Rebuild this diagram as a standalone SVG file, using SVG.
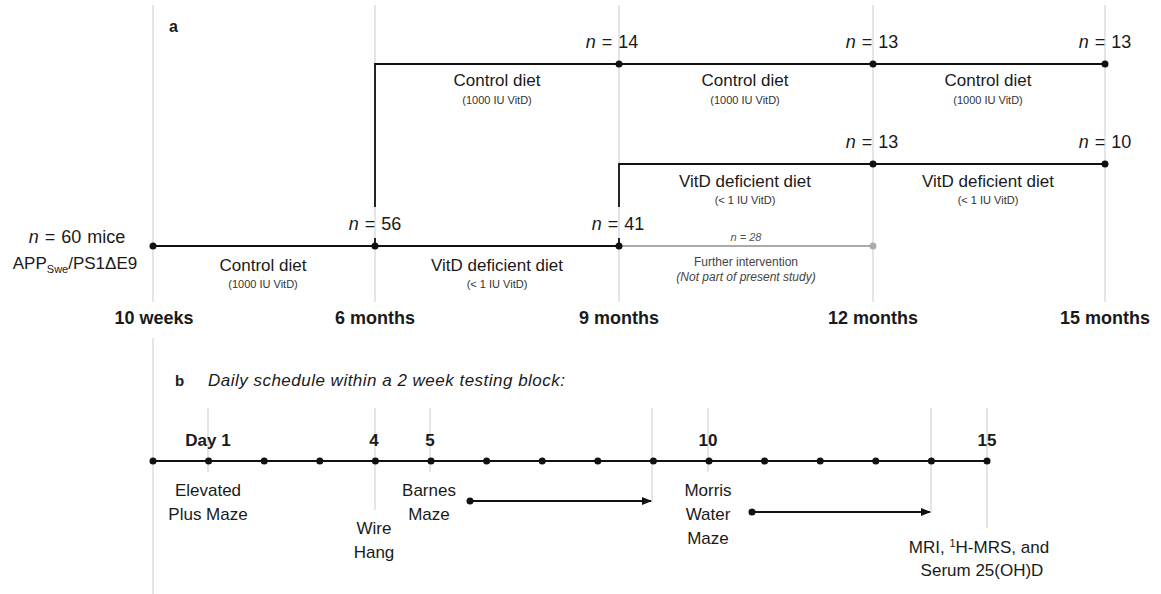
<svg xmlns="http://www.w3.org/2000/svg" width="1161" height="594" viewBox="0 0 1161 594">
<style>
text{font-family:"Liberation Sans",Arial,sans-serif;fill:#1a1a1a}
.m{font-size:17px}
.s{font-size:11px;fill:#333}
.b{font-size:18px;font-weight:bold}
.n{font-size:18px;word-spacing:1px}
.t{font-size:17px}
.g{stroke:#d4d4d4;stroke-width:1.2;fill:none}
.k{stroke:#111;stroke-width:1.8;fill:none}
.gr{stroke:#aaaaaa;stroke-width:1.8;fill:none}
.d{fill:#111}
.gd{fill:#aaaaaa}
</style>
<defs>
<marker id="ah" markerWidth="10" markerHeight="8" refX="9" refY="4" orient="auto" markerUnits="userSpaceOnUse">
<path d="M0,0 L10,4 L0,8 z" fill="#111"/>
</marker>
</defs>
<rect width="1161" height="594" fill="#fff"/>
<g id="gridlines">
<line class="g" x1="153" y1="5" x2="153" y2="302"/>
<line class="g" x1="153" y1="338" x2="153" y2="594"/>
<line class="g" x1="375" y1="5" x2="375" y2="302"/>
<line class="g" x1="619" y1="5" x2="619" y2="302"/>
<line class="g" x1="873" y1="5" x2="873" y2="302"/>
<line class="g" x1="1105" y1="5" x2="1105" y2="302"/>
<line class="g" x1="208" y1="408" x2="208" y2="472"/>
<line class="g" x1="375" y1="408" x2="375" y2="510"/>
<line class="g" x1="430" y1="408" x2="430" y2="472"/>
<line class="g" x1="652" y1="408" x2="652" y2="502"/>
<line class="g" x1="708" y1="408" x2="708" y2="472"/>
<line class="g" x1="931" y1="408" x2="931" y2="513"/>
<line class="g" x1="987" y1="408" x2="987" y2="528"/>
</g>
<g id="connectors">
<polyline class="k" points="375,207 375,64 1105,64"/>
<line class="k" x1="375" y1="238" x2="375" y2="246"/>
<polyline class="k" points="619,207 619,164 1105,164"/>
<line class="k" x1="619" y1="238" x2="619" y2="246"/>
<line class="k" x1="153" y1="246" x2="619" y2="246"/>
<line class="gr" x1="619" y1="246" x2="873" y2="246"/>
<line class="k" x1="153" y1="461" x2="987" y2="461"/>
<line class="k" x1="470" y1="501" x2="651" y2="501" stroke-width="1.4" marker-end="url(#ah)"/>
<line class="k" x1="752" y1="512" x2="930" y2="512" stroke-width="1.4" marker-end="url(#ah)"/>
<circle class="d" cx="470" cy="501" r="3.5"/>
<circle class="d" cx="752" cy="512" r="3.5"/>
</g>
<g id="panel-a-label"><text x="169" y="32" class="b" style="font-size:16px">a</text></g>
<g id="start">
<circle class="d" cx="153" cy="246" r="3.5"/>
<text class="n" x="77" y="243" text-anchor="middle"><tspan font-style="italic">n</tspan> = 60 mice</text>
<text class="n" x="75" y="269" text-anchor="middle" style="font-size:17px">APP<tspan font-size="11" dy="4">Swe</tspan><tspan dy="-4">/PS1ΔE9</tspan></text>
</g>
<g id="m6">
<circle class="d" cx="375" cy="246" r="3.5"/>
<text class="n" x="375" y="230" text-anchor="middle"><tspan font-style="italic">n</tspan> = 56</text>
</g>
<g id="m9">
<circle class="d" cx="619" cy="246" r="3.5"/>
<text class="n" x="618" y="230" text-anchor="middle"><tspan font-style="italic">n</tspan> = 41</text>
</g>
<g id="ctrl9">
<circle class="d" cx="619" cy="64" r="3.5"/>
<text class="n" x="612" y="48" text-anchor="middle"><tspan font-style="italic">n</tspan> = 14</text>
</g>
<g id="ctrl12">
<circle class="d" cx="873" cy="64" r="3.5"/>
<text class="n" x="872" y="48" text-anchor="middle"><tspan font-style="italic">n</tspan> = 13</text>
</g>
<g id="ctrl15">
<circle class="d" cx="1105" cy="64" r="3.5"/>
<text class="n" x="1105" y="48" text-anchor="middle"><tspan font-style="italic">n</tspan> = 13</text>
</g>
<g id="def12">
<circle class="d" cx="873" cy="164" r="3.5"/>
<text class="n" x="872" y="148" text-anchor="middle"><tspan font-style="italic">n</tspan> = 13</text>
</g>
<g id="def15">
<circle class="d" cx="1105" cy="164" r="3.5"/>
<text class="n" x="1105" y="148" text-anchor="middle"><tspan font-style="italic">n</tspan> = 10</text>
</g>
<g id="further">
<circle class="gd" cx="873" cy="246" r="3.5"/>
<text x="746" y="241" text-anchor="middle" font-size="11" font-style="italic" style="fill:#555"><tspan>n</tspan> = 28</text>
<text x="746" y="266" text-anchor="middle" font-size="12" style="fill:#444">Further intervention</text>
<text x="746" y="281" text-anchor="middle" font-size="12" font-style="italic" style="fill:#444">(Not part of present study)</text>
</g>
<g id="diet-labels">
<text class="m" x="497" y="86" text-anchor="middle">Control diet</text>
<text class="s" x="497" y="104" text-anchor="middle">(1000 IU VitD)</text>
<text class="m" x="745" y="86" text-anchor="middle">Control diet</text>
<text class="s" x="745" y="104" text-anchor="middle">(1000 IU VitD)</text>
<text class="m" x="988" y="86" text-anchor="middle">Control diet</text>
<text class="s" x="988" y="104" text-anchor="middle">(1000 IU VitD)</text>
<text class="m" x="745" y="187" text-anchor="middle">VitD deficient diet</text>
<text class="s" x="745" y="204" text-anchor="middle">(&lt; 1 IU VitD)</text>
<text class="m" x="988" y="187" text-anchor="middle">VitD deficient diet</text>
<text class="s" x="988" y="204" text-anchor="middle">(&lt; 1 IU VitD)</text>
<text class="m" x="263" y="271" text-anchor="middle">Control diet</text>
<text class="s" x="263" y="288" text-anchor="middle">(1000 IU VitD)</text>
<text class="m" x="497" y="271" text-anchor="middle">VitD deficient diet</text>
<text class="s" x="497" y="288" text-anchor="middle">(&lt; 1 IU VitD)</text>
</g>
<g id="axis-a">
<text class="b" x="154" y="324" text-anchor="middle">10 weeks</text>
<text class="b" x="375" y="324" text-anchor="middle">6 months</text>
<text class="b" x="619" y="324" text-anchor="middle">9 months</text>
<text class="b" x="873" y="324" text-anchor="middle">12 months</text>
<text class="b" x="1105" y="324" text-anchor="middle">15 months</text>
</g>
<g id="panel-b-label">
<text x="175" y="386" font-weight="bold" font-size="15">b</text>
<text x="208" y="386" font-size="17" font-style="italic" textLength="357" lengthAdjust="spacing">Daily schedule within a 2 week testing block:</text>
</g>
<g id="days">
<circle class="d" cx="153" cy="461" r="3.5"/>
<circle class="d" cx="208.6" cy="461" r="3.5"/>
<circle class="d" cx="264.2" cy="461" r="3.5"/>
<circle class="d" cx="319.8" cy="461" r="3.5"/>
<circle class="d" cx="375.4" cy="461" r="3.5"/>
<circle class="d" cx="431" cy="461" r="3.5"/>
<circle class="d" cx="486.6" cy="461" r="3.5"/>
<circle class="d" cx="542.2" cy="461" r="3.5"/>
<circle class="d" cx="597.8" cy="461" r="3.5"/>
<circle class="d" cx="653.4" cy="461" r="3.5"/>
<circle class="d" cx="709" cy="461" r="3.5"/>
<circle class="d" cx="764.6" cy="461" r="3.5"/>
<circle class="d" cx="820.2" cy="461" r="3.5"/>
<circle class="d" cx="875.8" cy="461" r="3.5"/>
<circle class="d" cx="931.4" cy="461" r="3.5"/>
<circle class="d" cx="987" cy="461" r="3.5"/>
<text class="b" x="208" y="446" text-anchor="middle" style="font-size:17px">Day 1</text>
<text class="b" x="374" y="446" text-anchor="middle" style="font-size:17px">4</text>
<text class="b" x="430" y="446" text-anchor="middle" style="font-size:17px">5</text>
<text class="b" x="708" y="446" text-anchor="middle" style="font-size:17px">10</text>
<text class="b" x="987" y="446" text-anchor="middle" style="font-size:17px">15</text>
</g>
<g id="tests">
<text class="t" x="208" y="496" text-anchor="middle">Elevated</text>
<text class="t" x="208" y="520" text-anchor="middle">Plus Maze</text>
<text class="t" x="374" y="534" text-anchor="middle">Wire</text>
<text class="t" x="374" y="558" text-anchor="middle">Hang</text>
<text class="t" x="429" y="496" text-anchor="middle">Barnes</text>
<text class="t" x="429" y="520" text-anchor="middle">Maze</text>
<text class="t" x="708" y="496" text-anchor="middle">Morris</text>
<text class="t" x="708" y="520" text-anchor="middle">Water</text>
<text class="t" x="708" y="544" text-anchor="middle">Maze</text>
<text class="t" x="979" y="553" text-anchor="middle">MRI, <tspan font-size="11" dy="-6">1</tspan><tspan dy="6">H-MRS, and</tspan></text>
<text class="t" x="982" y="576" text-anchor="middle">Serum 25(OH)D</text>
</g>
</svg>
